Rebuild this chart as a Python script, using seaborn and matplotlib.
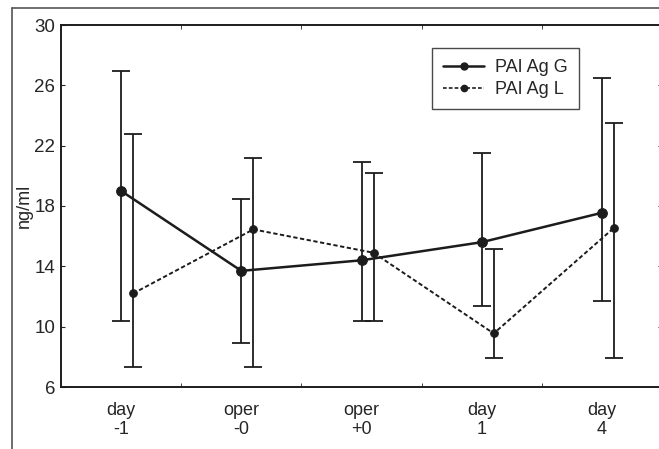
import numpy as np
import pandas as pd
import matplotlib
matplotlib.use("Agg")
import matplotlib.pyplot as plt
from matplotlib.lines import Line2D
import seaborn as sns

categories = ["day\n-1", "oper\n-0", "oper\n+0", "day\n1", "day\n4"]
g_mean = [19.0, 13.7, 14.4, 15.6, 17.55]
g_low = [10.4, 8.9, 10.35, 11.4, 11.7]
g_high = [26.95, 18.45, 20.95, 21.5, 26.5]
l_mean = [12.2, 16.45, 14.9, 9.55, 16.55]
l_low = [7.3, 7.35, 10.4, 7.95, 7.9]
l_high = [22.8, 21.2, 20.2, 15.15, 23.5]

pos = np.arange(len(categories))
df = pd.DataFrame({
    "x": np.concatenate([pos, pos + 0.1]),
    "y": g_mean + l_mean,
    "series": ["PAI Ag G"] * 5 + ["PAI Ag L"] * 5,
})

sns.set_style("ticks")
plt.rcParams["font.family"] = ["Liberation Sans", "DejaVu Sans"]

fig = plt.figure(figsize=(6.59, 4.49), dpi=100)
ax = fig.add_axes([61 / 659, 1 - 387 / 449, 601 / 659, 362 / 449])

ink = "#1c1c1c"
sns.lineplot(data=df[df.series == "PAI Ag G"], x="x", y="y", ax=ax, color=ink,
             lw=1.8, marker="o", markersize=7, markeredgecolor=ink, legend=False)
sns.lineplot(data=df[df.series == "PAI Ag L"], x="x", y="y", ax=ax, color=ink,
             lw=1.4, marker="o", markersize=5.5, markeredgecolor=ink, legend=False)
ax.lines[1].set_dashes([2.2, 1.3])

gm, lm = np.array(g_mean), np.array(l_mean)
ax.errorbar(pos, gm, yerr=[gm - np.array(g_low), np.array(g_high) - gm], fmt="none",
            ecolor=ink, elinewidth=1.3, capsize=6.5, capthick=1.3)
ax.errorbar(pos + 0.1, lm, yerr=[lm - np.array(l_low), np.array(l_high) - lm], fmt="none",
            ecolor=ink, elinewidth=1.3, capsize=6.5, capthick=1.3)

ax.set_xlim(-0.5, 4.5)
ax.set_ylim(6, 30)
ax.set_yticks([6, 10, 14, 18, 22, 26, 30])
ax.set_xticks(pos)
ax.set_xticklabels(categories, fontsize=13, linespacing=1.1)
ax.set_xticks(pos[:-1] + 0.5, minor=True)
ax.tick_params(axis="x", which="major", length=0, pad=11)
ax.tick_params(axis="x", which="minor", direction="in", length=3, top=True)
ax.tick_params(axis="y", direction="in", length=3, right=True, labelsize=13.5, pad=4)
ax.set_xlabel("")
ax.set_ylabel("ng/ml", fontsize=13, labelpad=1)
for s in ax.spines.values():
    s.set_color(ink)
    s.set_linewidth(1.4)

handles = [Line2D([], [], color=ink, lw=1.8, marker="o", markersize=5),
           Line2D([], [], color=ink, lw=1.2, ls=(0, (2.2, 1.3)), marker="o", markersize=4.5)]
leg = ax.legend(handles, ["PAI Ag G", "PAI Ag L"], loc="upper left",
                bbox_to_anchor=((432 - 61) / 601, (387 - 48) / 362), fontsize=13,
                frameon=True, fancybox=False, handlelength=2.3, borderpad=0.6,
                borderaxespad=0, labelspacing=0.3, handletextpad=0.6)
leg.get_frame().set_edgecolor(ink)
leg.get_frame().set_linewidth(1.0)

# outer frame of the scanned figure
fig.add_artist(Line2D([12 / 659, 1], [1 - 8 / 449] * 2, transform=fig.transFigure, color="#555555", lw=1.2))
fig.add_artist(Line2D([12 / 659] * 2, [0, 1 - 8 / 449], transform=fig.transFigure, color="#555555", lw=1.2))

fig.savefig("out.png", dpi=100)
